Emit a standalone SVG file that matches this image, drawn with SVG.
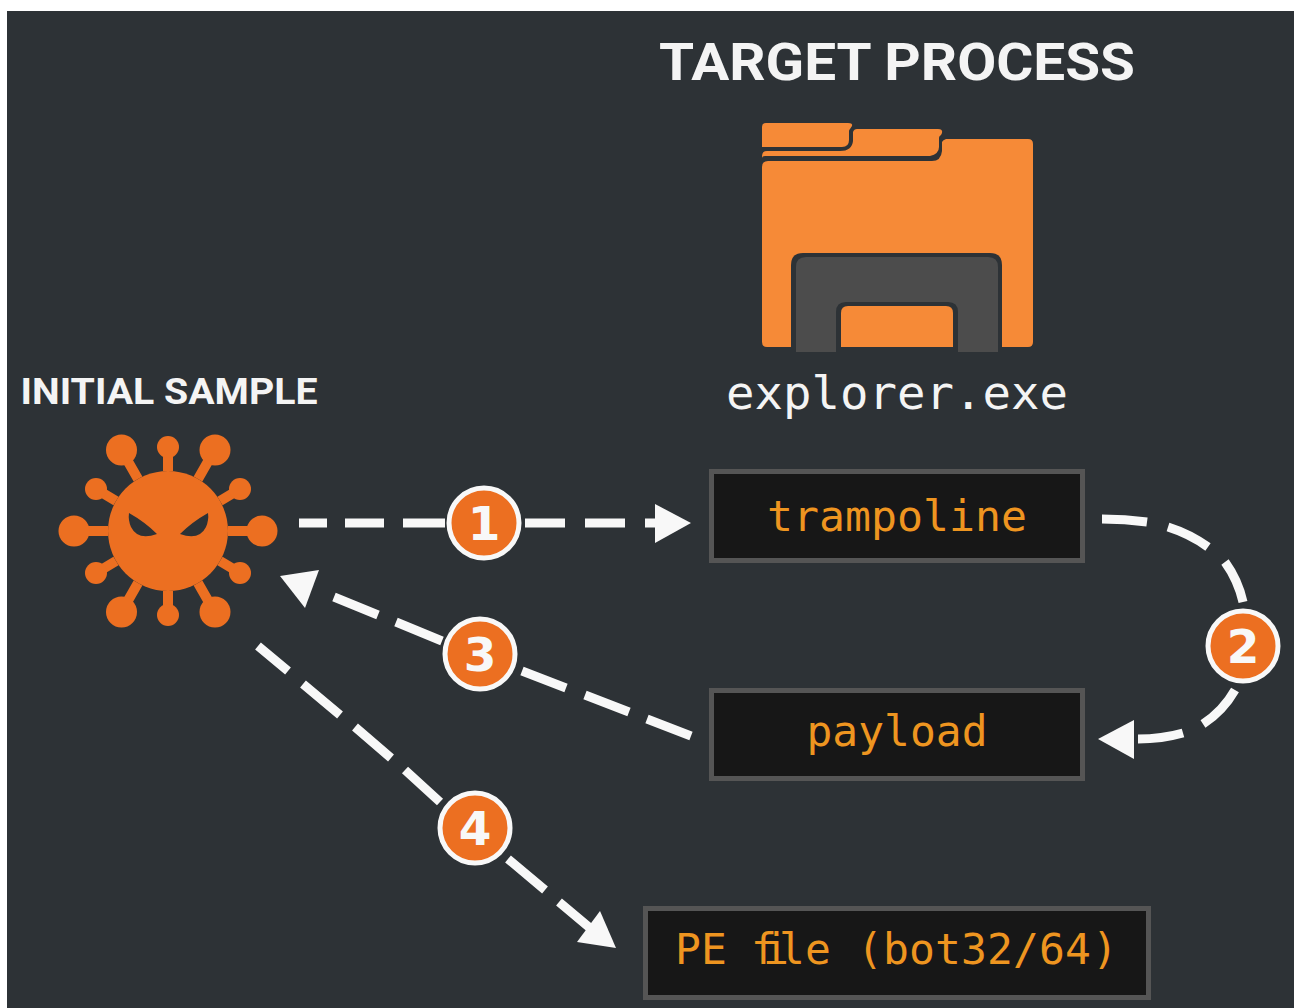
<svg xmlns="http://www.w3.org/2000/svg" width="1294" height="1008" viewBox="0 0 1294 1008">
<defs><style>
.t{font-family:"Roboto","Liberation Sans",sans-serif;font-weight:700;fill:#f4f4f4}
.m{font-family:"DejaVu Sans Mono","Liberation Mono",monospace}
.box{fill:#171717;stroke:#555;stroke-width:5}
.or{fill:#ee9520;font-size:43px;text-anchor:middle}
.d{fill:none;stroke:#f8f8f8;stroke-width:9}
.a{fill:#f8f8f8}
.b circle{fill:#ec6f21;stroke:#f8f8f8;stroke-width:5}
.b text{font-family:"DejaVu Sans","Liberation Sans",sans-serif;font-weight:700;font-size:47px;fill:#f8f8f8;text-anchor:middle}
.v{fill:#ec6f21}
.vs{stroke:#ec6f21;stroke-width:10;fill:none}
</style></defs>
<rect width="1294" height="1008" fill="#fff"/>
<rect x="7" y="11" width="1287" height="997" fill="#2d3236"/>
<text class="t" x="897" y="80" font-size="52" text-anchor="middle" textLength="476" lengthAdjust="spacingAndGlyphs">TARGET PROCESS</text>
<text class="t" x="169" y="404" font-size="37" text-anchor="middle" textLength="297" lengthAdjust="spacingAndGlyphs">INITIAL SAMPLE</text>
<g id="folder">
<path fill="#f68a37" d="M762 127q0-4 4-4h82q5 0 4 3l-2 3q-1 1-1 2v9q0 7-7 7h-80z"/>
<path fill="#f68a37" d="M762 158v-2q0-5 5-5h73q12 0 13-10v-9q1-3 4-3h81q5 0 4 4l-1 2q-2 1-2 3v9q0 7-9 9h-165q-3 0-3 2z"/>
<path fill="#f68a37" d="M762 167q0-6 6-6h164q9 0 10-10v-9q1-2 4-3h82q5 0 5 5v198q0 5-5 5h-261q-5 0-5-5z"/>
<path fill="#2d3236" d="M791 347V265q0-12 12-12h187q12 0 12 12v82z"/>
<path fill="#4c4c4c" d="M796 352V267q0-10 10-10h182q10 0 10 10v85h-40v-5h-122v5z"/>
<path fill="#2d3236" d="M836 347V312q0-10 10-10h102q10 0 10 10v35z"/>
<path fill="#f68a37" d="M841 347V313q0-7 7-7h98q7 0 7 7v34z"/>
</g>
<text class="m" x="897" y="409" font-size="47" fill="#f4f4f4" text-anchor="middle" textLength="342" lengthAdjust="spacingAndGlyphs">explorer.exe</text>
<g id="trampoline"><rect class="box" x="711.500" y="471.500" width="371" height="89"/><text class="m or" x="897" y="531" textLength="260" lengthAdjust="spacingAndGlyphs">trampoline</text></g>
<g id="payload"><rect class="box" x="711.500" y="690.500" width="371" height="88"/><text class="m or" x="897" y="746" textLength="181" lengthAdjust="spacingAndGlyphs">payload</text></g>
<g id="pe"><rect class="box" x="645.500" y="908.500" width="503" height="89"/><text class="m or" style="text-anchor:start" y="964" x="675 701 727 751 763 779 805 831 857 883 909 935 961 987 1013 1039 1065 1092">PE file (bot32/64)</text></g>
<g id="virus">
<circle class="v" cx="168" cy="531" r="60"/>
<path class="vs" d="M168 471V447M168 591V615M108 531H74M228 531H262M138 479L122 451M198 479L214 451M138 583L122 611M198 583L214 611M116 501L96 489M220 501L240 489M116 561L96 573M220 561L240 573"/>
<g class="v"><circle cx="168" cy="447" r="11"/><circle cx="168" cy="615" r="11"/><circle cx="74" cy="531" r="15.500"/><circle cx="262" cy="531" r="15.500"/><circle cx="121.500" cy="450" r="15.500"/><circle cx="215" cy="450" r="15.500"/><circle cx="121.500" cy="612" r="15.500"/><circle cx="215" cy="612" r="15.500"/><circle cx="96" cy="489" r="11"/><circle cx="240" cy="489" r="11"/><circle cx="96" cy="573" r="11"/><circle cx="240" cy="573" r="11"/></g>
<path fill="#2d3236" d="M129 513Q145 522 157 534Q138 541 131 527Q128 520 129 513ZM208 513Q192 522 180 534Q199 541 206 527Q209 520 208 513Z"/>
</g>
<g id="connectors">
<path class="d" d="M299 523H327M345 523H384M403 523H445M525 523H565M585 523H625M645 523H660"/><path class="a" d="M691 523L655 504V543Z"/>
<path class="d" d="M1102 519Q1125 519 1147 522M1168 527Q1190 534 1208 547M1225 562Q1238 580 1243 602"/>
<path class="d" d="M1235 690Q1223 711 1203 724M1183 733Q1162 739 1138 739"/><path class="a" d="M1098 739L1134 720V759Z"/>
<path class="d" d="M691 736L647 719M629 712L585 695M566 688L522 671M442 641L396 622M378 615L334 597"/><path class="a" d="M280 576L319 570L305 608Z"/>
<path class="d" d="M258 646L288 671M303 684L340 715M355 727L391 758M405 770L440 802M508 859L545 890M559 902L590 928"/><path class="a" d="M616 948L577 942L600 911Z"/>
</g>
<g id="b1" class="b"><circle cx="484" cy="523" r="35"/><text x="484" y="540">1</text></g>
<g id="b2" class="b"><circle cx="1243" cy="646" r="35"/><text x="1243" y="663">2</text></g>
<g id="b3" class="b"><circle cx="480" cy="654" r="35"/><text x="480" y="671">3</text></g>
<g id="b4" class="b"><circle cx="475" cy="828" r="35"/><text x="475" y="845">4</text></g>
</svg>
